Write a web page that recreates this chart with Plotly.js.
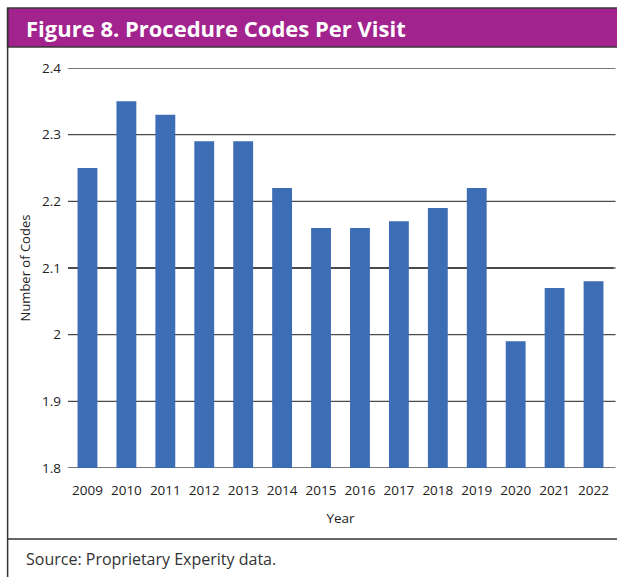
<!DOCTYPE html>
<html>
<head>
<meta charset="utf-8">
<script src="https://cdn.plot.ly/plotly-3.0.1.min.js"></script>
<style>
html,body{margin:0;padding:0;background:#fff;}
#chart{width:617px;height:577px;}
</style>
</head>
<body>
<div id="chart"></div>
<script>
const years = ['2009','2010','2011','2012','2013','2014','2015','2016','2017','2018','2019','2020','2021','2022'];
const codesPerVisit = [2.25, 2.35, 2.33, 2.29, 2.29, 2.22, 2.16, 2.16, 2.17, 2.19, 2.22, 1.99, 2.07, 2.08];
const yTicks = [1.8, 1.9, 2, 2.1, 2.2, 2.3, 2.4];
const yTickText = ['1.8', '1.9', '2', '2.1', '2.2', '2.3', '2.4'];

const W = 617, H = 577;
const L = 67.5, R = 613.5, T = 68, B = 468;
const px = x => (x - L) / (R - L);
const py = y => (B - y) / (B - T);

const FONT = 'Open Sans, Noto Sans, sans-serif';

const trace = {
  type: 'bar',
  x: years,
  y: codesPerVisit,
  marker: {color: '#3D6DB5'},
  hoverinfo: 'x+y'
};

const layout = {
  width: W, height: H,
  margin: {l: L, r: W - R, t: T, b: H - B, pad: 0},
  paper_bgcolor: '#fff',
  plot_bgcolor: '#fff',
  bargap: 0.49,
  showlegend: false,
  font: {family: FONT, color: '#222', size: 12},
  xaxis: {
    type: 'category',
    tickfont: {size: 13.5, color: '#222'},
    ticks: '', showline: false, showgrid: false,
    ticklabelstandoff: 12,
    title: {text: 'Year', font: {size: 13.5, color: '#222'}, standoff: 16}
  },
  yaxis: {
    range: [1.8, 2.4],
    tickvals: yTicks, ticktext: yTickText,
    tickfont: {size: 13.5, color: '#222'},
    showgrid: true, gridcolor: '#4a4a4a', gridwidth: 1.3,
    zeroline: false, showline: false, ticks: '',
    ticklabelstandoff: 6,
    title: {text: 'Number of Codes', font: {size: 13, color: '#222'}, standoff: 8}
  },
  shapes: [
    {type: 'rect', xref: 'paper', yref: 'paper', x0: px(7), x1: px(620), y0: py(47), y1: py(8),
     fillcolor: '#A3238E', line: {color: '#3a3a3a', width: 1.5}, layer: 'below'},
    {type: 'line', xref: 'paper', yref: 'paper', x0: px(7), x1: px(7), y0: py(8), y1: py(590),
     line: {color: '#333', width: 1.5}},
    {type: 'line', xref: 'paper', yref: 'paper', x0: px(7), x1: px(620), y0: py(539), y1: py(539),
     line: {color: '#333', width: 1.3}},
    ...yTicks.map(v => ({type: 'line', xref: 'paper', yref: 'y', x0: 0, x1: px(616), y0: v, y1: v,
      line: {color: '#4a4a4a', width: 1.3}, layer: 'below'}))
  ],
  annotations: [
    {text: '<b>Figure 8. Procedure Codes Per Visit</b>', xref: 'paper', yref: 'paper',
     x: px(23), y: py(28), xanchor: 'left', yanchor: 'middle', showarrow: false,
     font: {family: FONT, size: 22, color: '#fff'}},
    {text: 'Source: Proprietary Experity data.', xref: 'paper', yref: 'paper',
     x: px(23), y: py(559), xanchor: 'left', yanchor: 'middle', showarrow: false,
     font: {family: FONT, size: 16, color: '#333'}}
  ]
};

Plotly.newPlot('chart', [trace], layout, {displayModeBar: false, staticPlot: true});
</script>
</body>
</html>
